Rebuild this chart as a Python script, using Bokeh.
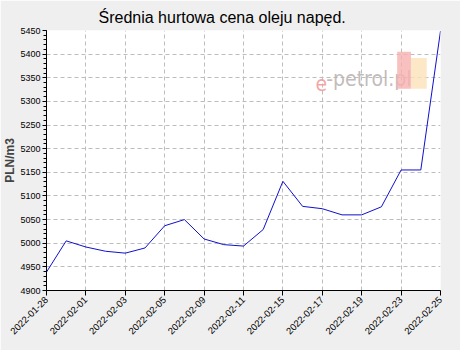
import math
from bokeh.plotting import figure
from bokeh.models import (Range1d, FixedTicker, SingleIntervalTicker, Label, BoxAnnotation, ColumnDataSource)
from bokeh.embed import file_html
from bokeh.resources import INLINE

# --- data ---
dates = ["2022-01-28", "2022-01-31", "2022-02-01", "2022-02-02", "2022-02-03", "2022-02-04",
         "2022-02-05", "2022-02-08", "2022-02-09", "2022-02-10", "2022-02-11", "2022-02-14",
         "2022-02-15", "2022-02-16", "2022-02-17", "2022-02-18", "2022-02-19", "2022-02-22",
         "2022-02-23", "2022-02-24", "2022-02-25"]
prices = [4939, 5005, 4992, 4983, 4979, 4990, 5037, 5050, 5009, 4997, 4994, 5029,
          5131, 5078, 5073, 5060, 5060, 5077, 5155, 5155, 5449]
title_text = "Średnia hurtowa cena oleju napęd."
y_label = "PLN/m3"

idx = list(range(len(dates)))
src = ColumnDataSource(dict(x=idx, y=prices, d=dates))

FONT = "Liberation Sans"
WM_FONT = "DejaVu Sans Condensed"

p = figure(width=460, height=350, output_backend="svg", toolbar_location=None,
           x_range=Range1d(0, len(dates) - 1), y_range=Range1d(4900, 5450),
           min_border_left=45, min_border_right=20, min_border_top=30, min_border_bottom=60)

p.background_fill_color = "white"
p.border_fill_color = "#EFEFEF"
p.outline_line_color = None

p.title.text = title_text
p.title.text_font = FONT
p.title.text_font_size = "16px"
p.title.text_font_style = "normal"
p.title.align = "left"
p.title.offset = 52
p.title.text_color = "black"

# watermark
p.add_layout(Label(x=13.65, y=5322, text="e", text_font=WM_FONT, text_font_size="21px",
                   text_color="#F29A9A", text_alpha=0.9, level="underlay"))
p.add_layout(Label(x=14.2, y=5322, text="-petrol.pl", text_font=WM_FONT, text_font_size="21px",
                   text_color="#BBB3B3", text_alpha=0.9, level="underlay"))
p.add_layout(BoxAnnotation(left=17.8, right=18.5, bottom=5327, top=5405, fill_color="#F7B0B0",
                           fill_alpha=0.8, line_color=None, level="underlay"))
p.add_layout(BoxAnnotation(left=18.5, right=19.3, bottom=5327, top=5392, fill_color="#FBE2B8",
                           fill_alpha=0.8, line_color=None, level="underlay"))

p.line("x", "y", source=src, line_color="#1010CC", line_width=1)

# x axis
xa = p.xaxis[0]
xa.ticker = FixedTicker(ticks=idx[::2])
xa.major_label_overrides = {i: dates[i] for i in idx}
xa.major_label_orientation = math.pi / 4
xa.major_label_text_font = FONT
xa.major_label_text_font_size = "9.5px"
xa.major_label_text_color = "black"
xa.minor_tick_line_color = None
xa.major_tick_in = 0
xa.major_tick_out = 5
xa.axis_line_color = "black"
xa.major_tick_line_color = "black"
xa.major_label_standoff = 3

# y axis
ya = p.yaxis[0]
ya.ticker = SingleIntervalTicker(interval=50, num_minor_ticks=5)
ya.major_label_text_font = FONT
ya.major_label_text_font_size = "9px"
ya.major_label_text_color = "black"
ya.major_tick_in = 0
ya.major_tick_out = 4
ya.minor_tick_in = 0
ya.minor_tick_out = 3
ya.minor_tick_line_color = "black"
ya.major_tick_line_color = "black"
ya.axis_line_color = "black"
ya.major_label_standoff = 2
ya.axis_label = y_label
ya.axis_label_text_font = FONT
ya.axis_label_text_font_size = "12px"
ya.axis_label_text_font_style = "bold"
ya.axis_label_standoff = 0

for g in (p.xgrid[0], p.ygrid[0]):
    g.grid_line_color = "#BDBDBD"
    g.grid_line_dash = "4 3"
    g.grid_line_width = 1
p.xgrid[0].ticker = FixedTicker(ticks=idx[::2])

open("out.html", "w").write(file_html(p, INLINE))
